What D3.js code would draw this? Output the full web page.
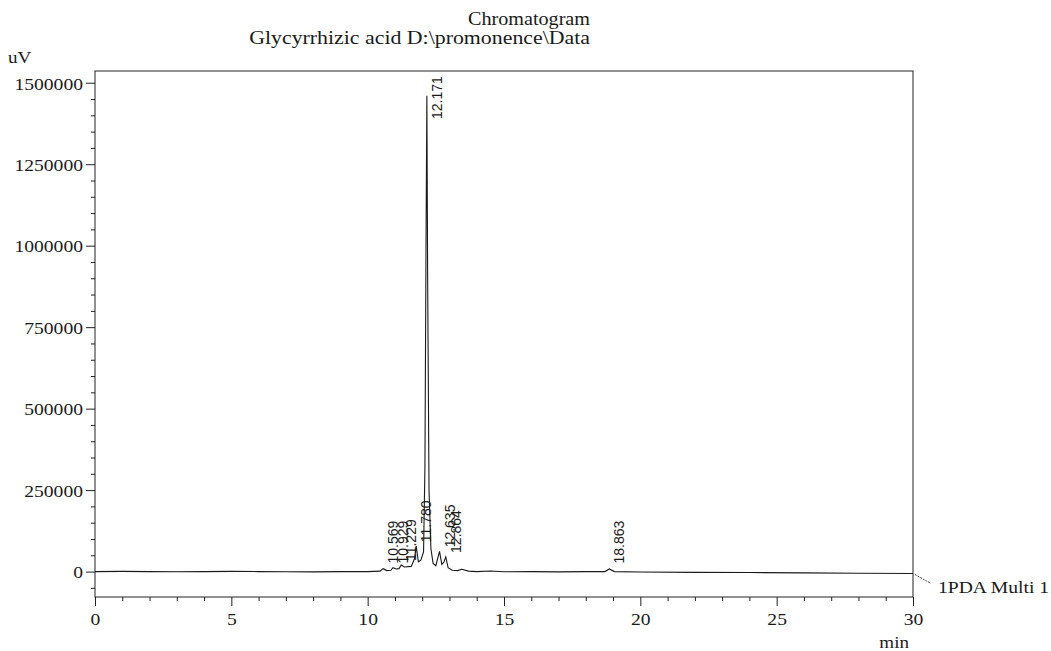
<!DOCTYPE html>
<html>
<head>
<meta charset="utf-8">
<script src="https://cdn.jsdelivr.net/npm/d3@7"></script>
<style>
  body { margin: 0; background: #fff; }
  svg text { font-family: "Liberation Serif", "Times New Roman", serif; fill: #1a1a1a; }
  .pk { font-family: "Liberation Sans", Arial, sans-serif; }
</style>
</head>
<body>
<div id="chart"></div>
<script>
// retention time (min) and detector signal (uV)
var times = [0, 1, 2, 3, 4, 5, 6, 7, 8, 9, 10, 10.45, 10.569, 10.7, 10.85, 10.929, 11.05, 11.15, 11.229, 11.35,
  11.6, 11.72, 11.78, 11.86, 11.95, 12.05, 12.1, 12.14, 12.171, 12.2, 12.25, 12.32, 12.4, 12.5, 12.635, 12.72,
  12.8, 12.864, 12.95, 13.1, 13.3, 13.45, 13.7, 14.0, 14.5, 15, 16, 17, 18, 18.7, 18.863, 19.05, 20, 22, 24, 26, 28, 30];
var signal = [0, 500, 0, -500, 0, 500, 0, -500, -1000, 0, 0, 1500, 9000, 3000, 4000, 12000, 8000, 9000, 20000, 14000,
  16000, 40000, 78000, 30000, 35000, 60000, 320000, 1000000, 1460000, 900000, 250000, 70000, 25000, 18000, 62000, 22000,
  30000, 45000, 12000, 4000, 3000, 7000, 1500, 0, 2000, -500, 0, -1000, 0, 0, 8000, 0, -1500, -2500, -3000, -4000, -5000, -6000];

// integrated peaks (label text is the retention time)
var peakTimes = [10.569, 10.929, 11.229, 11.780, 12.171, 12.635, 12.864, 18.863];
var peakHeights = [9000, 12000, 20000, 78000, 1460000, 62000, 45000, 8000];

var yTicks = [0, 250000, 500000, 750000, 1000000, 1250000, 1500000];
var xTicks = [0, 5, 10, 15, 20, 25, 30];

var W = 1051, H = 651;
var stretch = 1.12;

var svg = d3.select('#chart').append('svg')
  .attr('width', W)
  .attr('height', H);

var x = d3.scaleLinear().domain([0, 30]).range([95, 913]);
var y = d3.scaleLinear().domain([-78000, 1536000]).range([597, 71]);

// frame
svg.append('rect')
  .attr('x', x.range()[0]).attr('y', y.range()[1])
  .attr('width', x.range()[1] - x.range()[0])
  .attr('height', y.range()[0] - y.range()[1])
  .attr('fill', 'none').attr('stroke', '#222').attr('stroke-width', 1);

// y axis, major + minor ticks
var yAxis = d3.axisLeft(y).tickValues(yTicks).tickSize(9).tickPadding(3).tickFormat(d3.format('d'));
var gy = svg.append('g').attr('transform', 'translate(' + x.range()[0] + ',0)').call(yAxis);
gy.select('.domain').remove();
gy.selectAll('text').attr('font-size', 17.5).attr('dy', '0.36em');

var yMinor = d3.range(-50000, 1500001, 50000).filter(function(v) { return v % 250000 != 0; });
svg.append('g').attr('transform', 'translate(' + x.range()[0] + ',0)')
  .call(d3.axisLeft(y).tickValues(yMinor).tickSize(4).tickFormat(''))
  .select('.domain').remove();

// x axis
var xAxis = d3.axisBottom(x).tickValues(xTicks).tickSize(9).tickPadding(7);
var gx = svg.append('g').attr('transform', 'translate(0,' + y.range()[0] + ')').call(xAxis);
gx.select('.domain').remove();
gx.selectAll('text').attr('font-size', 17.5);

var xMinor = d3.range(1, 30).filter(function(v) { return v % 5 != 0; });
svg.append('g').attr('transform', 'translate(0,' + y.range()[0] + ')')
  .call(d3.axisBottom(x).tickValues(xMinor).tickSize(4).tickFormat(''))
  .select('.domain').remove();

svg.selectAll('.tick line').attr('stroke', '#222');

// trace
var line = d3.line()
  .x(function(d, i) { return x(times[i]); })
  .y(function(d) { return y(d); });

svg.append('path')
  .datum(signal)
  .attr('d', line)
  .attr('fill', 'none')
  .attr('stroke', '#1a1a1a')
  .attr('stroke-width', 1.1);

// peak labels, rotated, clamped inside the frame
svg.selectAll('.pk')
  .data(peakTimes)
  .enter().append('text')
  .attr('class', 'pk')
  .attr('font-size', 14)
  .attr('text-anchor', 'start')
  .attr('transform', function(d, i) {
    var yb = Math.min(y(peakHeights[i]) - 4, y(0) - 8);
    yb = Math.max(yb, y.range()[1] + 48);
    return 'translate(' + (x(d) + 15) + ',' + yb + ') rotate(-90)';
  })
  .text(function(d) { return d3.format('.3f')(d); });

// titles and axis units
svg.append('text').attr('x', 590).attr('y', 25).attr('text-anchor', 'end').attr('font-size', 18).text('Chromatogram');
svg.append('text').attr('x', 590).attr('y', 44).attr('text-anchor', 'end').attr('font-size', 19.5)
  .text('Glycyrrhizic acid D:\\promonence\\Data');
svg.append('text').attr('x', 8).attr('y', 63).attr('font-size', 17).text('uV');
svg.append('text').attr('x', 909).attr('y', 648).attr('text-anchor', 'end').attr('font-size', 17).text('min');

// channel tag with its leader
svg.append('line')
  .attr('x1', x(30) + 2).attr('y1', y(signal[signal.length - 1]) + 1)
  .attr('x2', x(30) + 18).attr('y2', y(signal[signal.length - 1]) + 10)
  .attr('stroke', '#444').attr('stroke-dasharray', '2,1');
svg.append('text').attr('x', 938).attr('y', 593).attr('font-size', 17.5).text('1PDA Multi 1');

// the scan is a bit wider than tall, widen the serif text to match
svg.selectAll('text:not(.pk)').each(function() {
  var len = this.getComputedTextLength();
  d3.select(this).attr('textLength', len * stretch).attr('lengthAdjust', 'spacingAndGlyphs');
});
</script>
</body>
</html>
